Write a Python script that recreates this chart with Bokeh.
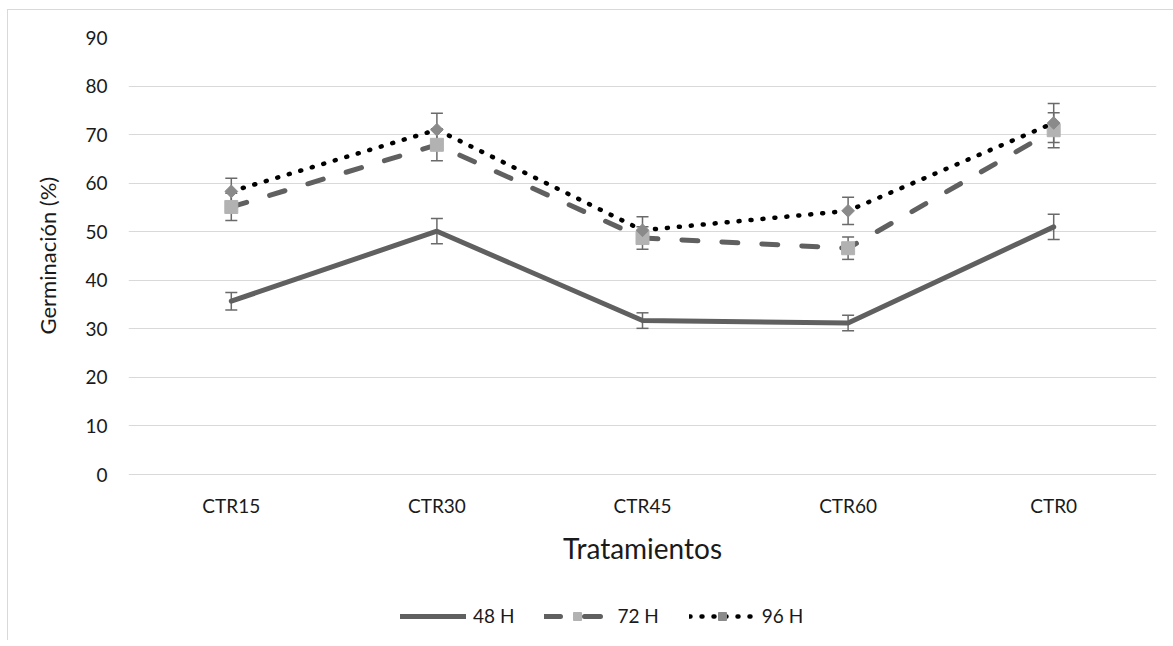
from bokeh.plotting import figure
from bokeh.models import (ColumnDataSource, FactorRange, Range1d, FixedTicker,
                          Whisker, TeeHead, Legend, LegendItem, Title)
from bokeh.core.properties import value
from bokeh.embed import file_html
from bokeh.resources import INLINE
from math import pi

# ---- data ----
categories = ["CTR15", "CTR30", "CTR45", "CTR60", "CTR0"]
h48 = [35.7, 50.1, 31.7, 31.2, 51.0]
h48_err = [1.8, 2.6, 1.6, 1.6, 2.6]
h72 = [55.1, 67.9, 48.7, 46.6, 70.9]
h72_err = [2.8, 3.3, 2.3, 2.3, 3.6]
h96 = [58.3, 71.0, 50.3, 54.3, 72.4]
h96_err = [2.7, 3.4, 2.8, 2.8, 4.0]
y_ticks = [0, 10, 20, 30, 40, 50, 60, 70, 80, 90]
series_names = ["48 H", "72 H", "96 H"]
x_title = "Tratamientos"
y_title = "Germinación (%)"

FONT = "Lato"
LINE_GRAY = "#606060"
ERR_GRAY = "#6a6a6a"
TXT = "#1a1a1a"

# layout: the value axis (0..90) occupies 437 px; the frame extends below it
PLOT_H = 437
FRAME_H = 603
px_per_unit = PLOT_H / y_ticks[-1]
y_start = -(FRAME_H - PLOT_H) / px_per_unit

p = figure(frame_width=1028, frame_height=FRAME_H, output_backend="svg",
           toolbar_location=None,
           x_range=FactorRange(*categories, range_padding=0),
           y_range=Range1d(y_start, y_ticks[-1]),
           min_border_left=120, min_border_right=17,
           min_border_top=27, min_border_bottom=0)
p.styles = {"border-top": "1px solid #d9d9d9", "border-left": "1px solid #d9d9d9",
            "margin-left": "7px", "margin-top": "9px"}
p.outline_line_color = None
p.background_fill_color = "white"
p.border_fill_color = "white"

# grid
p.xgrid.grid_line_color = None
p.ygrid.grid_line_color = "#d9d9d9"
p.ygrid.grid_line_width = 1
p.yaxis.ticker = FixedTicker(ticks=y_ticks)

# y axis
p.yaxis.axis_line_color = None
p.yaxis.major_tick_line_color = None
p.yaxis.minor_tick_line_color = None
p.yaxis.major_tick_out = 0
p.yaxis.major_tick_in = 0
p.yaxis.major_label_text_font = FONT
p.yaxis.major_label_text_font_size = "19px"
p.yaxis.major_label_text_color = TXT
p.yaxis.major_label_standoff = 21
p.xaxis.visible = False

# y axis title (placed along the 0..90 band, measured up from the frame bottom)
p.add_layout(Title(text=y_title, text_font=FONT, text_font_size="22px",
                   text_font_style="normal", text_color=TXT, align="left",
                   offset=306, standoff=44), "left")

# category labels and x title, placed under the zero line
cat_src = ColumnDataSource(dict(x=categories, y=[0] * len(categories), t=categories))
p.text("x", "y", text="t", source=cat_src, text_font=value(FONT),
       text_font_size=value("19px"), text_color=TXT, text_align="center",
       text_baseline="top", y_offset=19)
xt_src = ColumnDataSource(dict(x=[categories[len(categories) // 2]], y=[0], t=[x_title]))
p.text("x", "y", text="t", source=xt_src, text_font=value(FONT),
       text_font_size=value("28px"), text_color=TXT, text_align="center",
       text_baseline="top", y_offset=56)

def whisker(vals, errs):
    src = ColumnDataSource(dict(
        x=categories,
        lo=[v - e for v, e in zip(vals, errs)],
        hi=[v + e for v, e in zip(vals, errs)]))
    w = Whisker(base="x", lower="lo", upper="hi", source=src, dimension="height",
                line_color=ERR_GRAY, line_width=1.5,
                upper_head=TeeHead(size=12, line_color=ERR_GRAY, line_width=1.5),
                lower_head=TeeHead(size=12, line_color=ERR_GRAY, line_width=1.5))
    w.level = "underlay"
    p.add_layout(w)

whisker(h48, h48_err)
whisker(h72, h72_err)
whisker(h96, h96_err)

src48 = ColumnDataSource(dict(x=categories, y=h48))
src72 = ColumnDataSource(dict(x=categories, y=h72))
src96 = ColumnDataSource(dict(x=categories, y=h96))

l48 = p.line("x", "y", source=src48, line_color=LINE_GRAY, line_width=5,
             line_cap="round", line_join="round")
l72 = p.line("x", "y", source=src72, line_color=LINE_GRAY, line_width=5,
             line_dash="16 24", line_cap="round", line_join="round")
m72 = p.scatter("x", "y", source=src72, marker="square", size=13,
                fill_color="#b2b2b2", line_color="#b2b2b2")
l96 = p.line("x", "y", source=src96, line_color="black", line_width=4.5,
             line_dash="1 11", line_cap="round", line_join="round")
m96 = p.scatter("x", "y", source=src96, marker="square", size=9, angle=pi / 4,
                fill_color="#8a8a8a", line_color="#8a8a8a")

legend = Legend(items=[
    LegendItem(label=series_names[0], renderers=[l48]),
    LegendItem(label=series_names[1], renderers=[l72, m72]),
    LegendItem(label=series_names[2], renderers=[l96, m96]),
], orientation="horizontal", location=(272, 13),
    glyph_width=66, glyph_height=20, label_height=20, label_standoff=7,
    spacing=30, padding=0, margin=0,
    label_text_font=FONT, label_text_font_size="19px", label_text_color=TXT,
    border_line_color=None, background_fill_alpha=0)
p.add_layout(legend, "center")

open("out.html", "w").write(file_html(p, INLINE))
